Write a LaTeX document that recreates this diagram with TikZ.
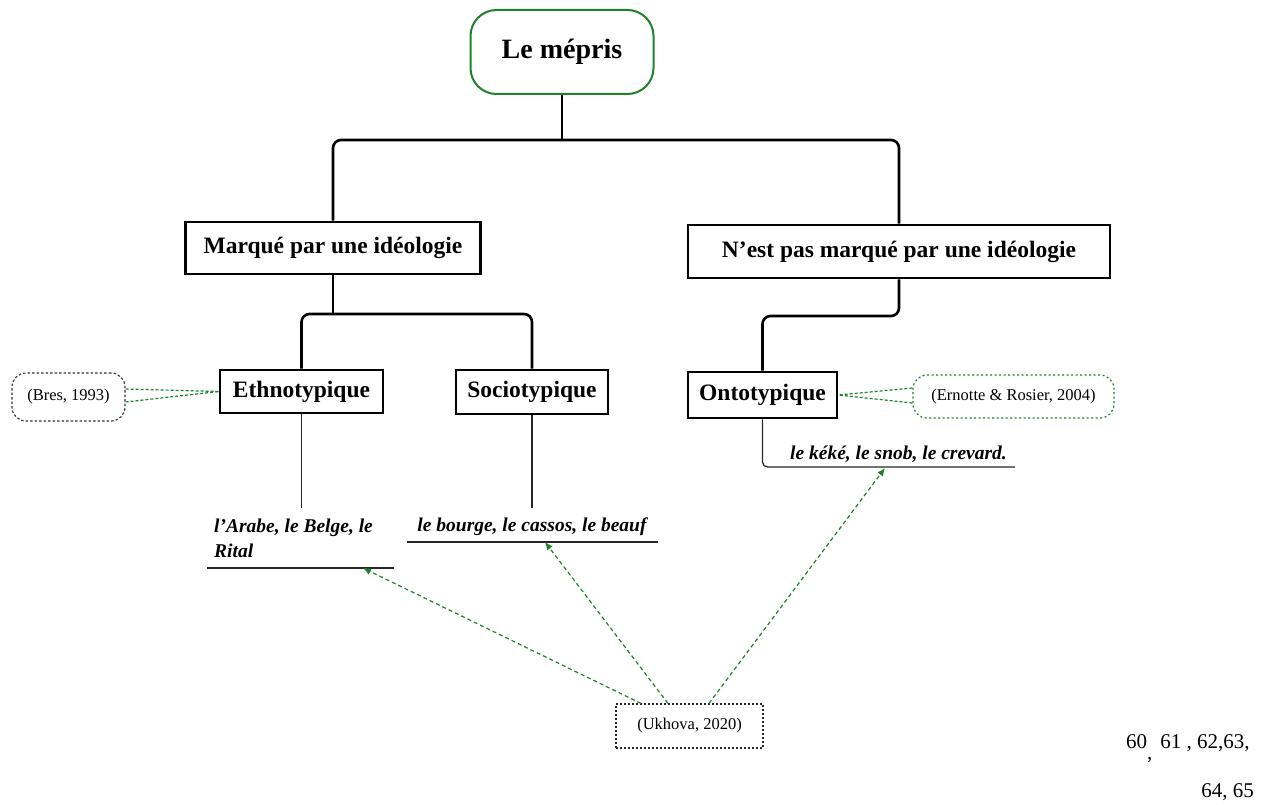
\documentclass[tikz,border=0pt]{standalone}
\usepackage{fontspec}
\setmainfont{Liberation Serif}
\usetikzlibrary{arrows.meta}
\definecolor{dgreen}{RGB}{30,130,40}
\tikzset{
  titlebox/.style={draw=dgreen, line width=2pt, rounded corners=26pt, minimum width=183pt, minimum height=84pt, font=\fontsize{28}{30}\selectfont\bfseries, inner sep=0pt},
  levelbox/.style={draw=black, line width=2.6pt, inner sep=0pt, font=\fontsize{23.5}{26}\selectfont\bfseries},
  conn/.style={draw=black, line width=2.6pt, rounded corners=8pt},
  thin/.style={draw=black!85, line width=1.3pt},
  ex/.style={font=\fontsize{19.5}{25}\selectfont\bfseries\itshape, inner sep=0pt},
  cite/.style={font=\fontsize{16.5}{19}\selectfont, inner sep=0pt},
  ptr/.style={draw=dgreen, line width=1.2pt, dash pattern=on 3pt off 2pt},
  arr/.style={draw=dgreen, line width=1.2pt, dash pattern=on 4pt off 3pt, -{Latex[length=8pt,width=7pt]}},
  pnum/.style={font=\fontsize{21}{24}\selectfont, inner sep=0pt},
}
\begin{document}
\begin{tikzpicture}[x=1pt,y=-1pt]
\path[use as bounding box] (0,0) rectangle (1268,805);
% nodes
\node[titlebox] (root) at (562,52) {Le mépris};
\node[levelbox, minimum width=295pt, minimum height=52pt] (marq) at (333,248) {Marqué par une idéologie};
\node[levelbox, minimum width=422pt, minimum height=53pt] (nmarq) at (899,251.5) {N'est pas marqué par une idéologie};
\node[levelbox, minimum width=163pt, minimum height=43pt] (ethno) at (301.5,391.5) {Ethnotypique};
\node[levelbox, minimum width=152pt, minimum height=44pt] (socio) at (532,392) {Sociotypique};
\node[levelbox, minimum width=149pt, minimum height=46pt] (onto) at (762.5,395) {Ontotypique};
% connectors
\coordinate (jt) at (562,140);
\draw[conn] (root.south) -- (jt);
\draw[conn] (marq.north) |- (jt) -| (nmarq.north);
\coordinate (jm) at (333,314);
\draw[conn] (marq.south) -- (jm);
\draw[conn] (ethno.north) |- (jm) -| (socio.north);
\draw[conn] (nmarq.south) |- (onto.north |- 0,316) -- (onto.north);
% examples
\node[ex, align=left, anchor=base west] (exA) at (214,557) {l'Arabe, le Belge, le\\Rital};
\coordinate (uA1) at (207,568);
\coordinate (uA2) at (394,568);
\draw[thin] (uA1) -- (uA2);
\draw[thin] (ethno.south) -- (301.5,508);
\node[ex, anchor=base] (exS) at (532,531) {le bourge, le cassos, le beauf};
\coordinate (uS1) at (407,542);
\coordinate (uS2) at (658,542);
\draw[thin] (uS1) -- (uS2);
\draw[thin] (socio.south) -- (532,508);
\node[ex, anchor=base west] (exO) at (790,459) {le kéké, le snob, le crevard.};
\coordinate (uO2) at (1015,467);
\draw[thin, rounded corners=5pt] (onto.south) |- (uO2);
% citations
\node[cite, draw=black!80, dash pattern=on 2.5pt off 2pt, line width=1.1pt, rounded corners=14pt, minimum width=113pt, minimum height=48pt] (bres) at (68.5,397) {(Bres, 1993)};
\draw[ptr] (bres.east |- 0,389) -- (ethno.west);
\draw[ptr] (bres.east |- 0,402) -- (ethno.west);
\node[cite, draw=dgreen, dash pattern=on 2pt off 2.5pt, line width=1.2pt, rounded corners=14pt, minimum width=201pt, minimum height=43pt] (ern) at (1013.5,396.5) {(Ernotte \& Rosier, 2004)};
\draw[ptr] (ern.west |- 0,388) -- (onto.east);
\draw[ptr] (ern.west |- 0,403) -- (onto.east);
\node[cite, draw=black!85, dash pattern=on 2pt off 2pt, line width=1.2pt, minimum width=147pt, minimum height=44pt] (ukh) at (689.5,726) {(Ukhova, 2020)};
\draw[arr] (ukh.north -| 641,0) -- (363,568);
\draw[arr] (ukh.north -| 668,0) -- (545,542);
\draw[arr] (ukh.north -| 709,0) -- (885,468);
% page numbers
\node[pnum, anchor=base west] (pn1) at (1126,748) {60\raisebox{-11pt}{,}\hspace{8pt}61 , 62,63,};
\node[pnum, anchor=base east] (pn2) at (1254,797) {64, 65};
\end{tikzpicture}
\end{document}
